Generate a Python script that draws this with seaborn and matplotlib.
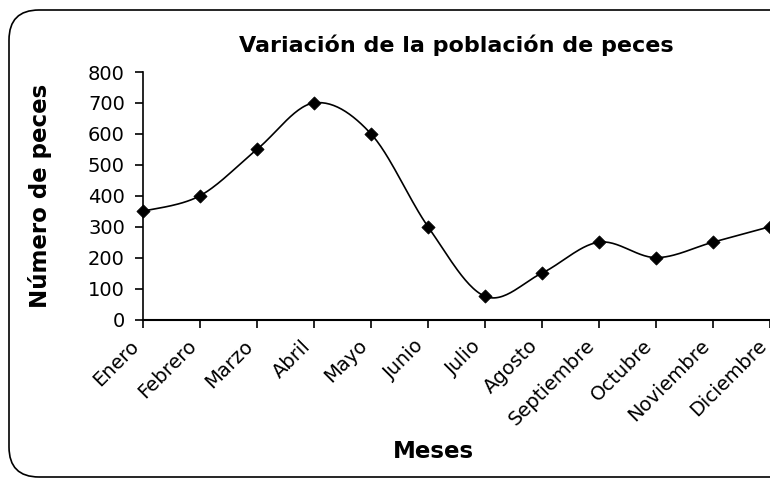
import numpy as np
import pandas as pd
import matplotlib
matplotlib.use("Agg")
import matplotlib.pyplot as plt
from matplotlib.patches import FancyBboxPatch
from matplotlib.transforms import IdentityTransform
import seaborn as sns

# data
meses = ["Enero", "Febrero", "Marzo", "Abril", "Mayo", "Junio", "Julio",
         "Agosto", "Septiembre", "Octubre", "Noviembre", "Diciembre"]
peces = [350, 400, 550, 700, 600, 300, 75, 150, 250, 200, 250, 300]

df = pd.DataFrame({"mes": np.arange(len(meses)), "peces": peces})

sns.set_theme(style="ticks")
plt.rcParams["font.family"] = ["DejaVu Sans"]
plt.rcParams["text.color"] = "black"

fig = plt.figure(figsize=(7.7, 4.78), dpi=100)
ax = fig.add_axes([143 / 770, 1 - 319.5 / 478, 627 / 770, 247.5 / 478])

# excel style smoothed line (bezier through the points)
x = df["mes"].to_numpy(dtype=float)
y = df["peces"].to_numpy(dtype=float)
n = len(x)
t = np.linspace(0, 1, 30)
cx, cy = [], []
for i in range(n - 1):
    i0, i3 = max(i - 1, 0), min(i + 2, n - 1)
    p1 = np.array([x[i], y[i]])
    p2 = np.array([x[i + 1], y[i + 1]])
    c1 = p1 + (p2 - np.array([x[i0], y[i0]])) / 6
    c2 = p2 - (np.array([x[i3], y[i3]]) - p1) / 6
    pts = ((1 - t) ** 3)[:, None] * p1 + (3 * (1 - t) ** 2 * t)[:, None] * c1 \
        + (3 * (1 - t) * t ** 2)[:, None] * c2 + (t ** 3)[:, None] * p2
    cx.extend(pts[:, 0])
    cy.extend(pts[:, 1])
ax.plot(cx, cy, color="black", lw=1.2, clip_on=False)

sns.scatterplot(data=df, x="mes", y="peces", marker="D", s=45,
                color="black", edgecolor="black", ax=ax, clip_on=False, zorder=3)

ax.set_xlim(0, n - 1)
ax.set_ylim(0, 800)
ax.set_yticks(range(0, 801, 100))
ax.set_xticks(range(n))
ax.set_xticklabels(meses, rotation=45, ha="right", va="top")
ax.tick_params(axis="both", labelsize=14, length=6, width=1.2, color="black",
               labelcolor="black", direction="out")
ax.tick_params(axis="x", pad=6)
ax.tick_params(axis="y", pad=7)
ax.set_xlabel("")
ax.set_ylabel("")
ax.set_facecolor("white")
sns.despine(ax=ax, top=True, right=True)
ax.spines["left"].set_linewidth(1.2)
ax.spines["bottom"].set_linewidth(1.5)
ax.spines["left"].set_color("black")
ax.spines["bottom"].set_color("black")

fig.text(456.5 / 770, 1 - 45 / 478, "Variación de la población de peces",
         ha="center", va="center", fontsize=16, fontweight="bold")
fig.text(40 / 770, 1 - 196 / 478, "Número de peces", rotation=90,
         ha="center", va="center", fontsize=16.5, fontweight="bold")
fig.text(433 / 770, 1 - 452 / 478, "Meses", ha="center", va="center",
         fontsize=16.5, fontweight="bold")

border = FancyBboxPatch((9, 1), 950, 467, boxstyle="round,pad=0,rounding_size=30",
                        transform=IdentityTransform(), fill=False,
                        edgecolor="black", lw=1.2)
fig.patches.append(border)

fig.savefig("out.png", dpi=100, facecolor="white")
